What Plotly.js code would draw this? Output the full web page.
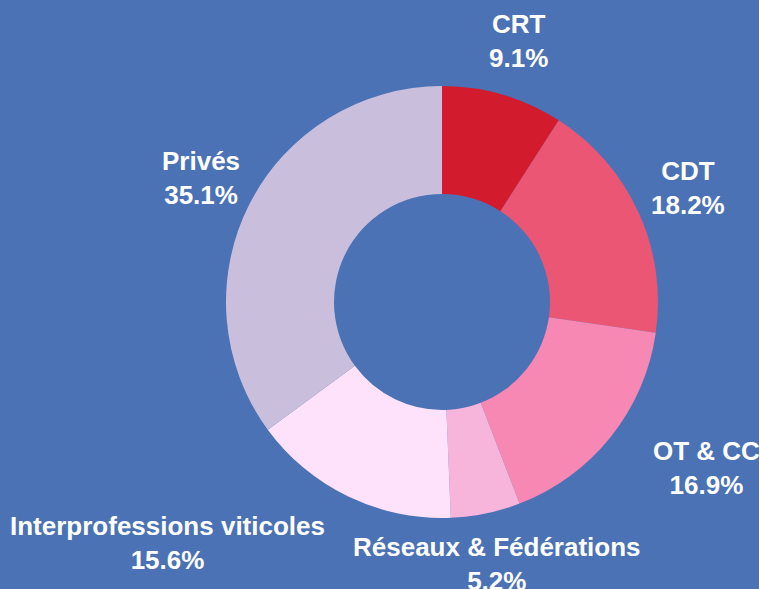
<!DOCTYPE html>
<html>
<head>
<meta charset="utf-8">
<script src="https://cdn.plot.ly/plotly-3.0.1.min.js"></script>
<style>html,body{margin:0;padding:0;background:#4b72b5;}#chart{width:759px;height:589px;}</style>
</head>
<body>
<div id="chart"></div>
<script>
var categories = ["CRT", "CDT", "OT & CC", "Réseaux & Fédérations", "Interprofessions viticoles", "Privés"];
var values = [9.1, 18.2, 16.9, 5.2, 15.6, 35.1];
var colors = ["#d21c2e", "#ea5674", "#f688b3", "#f8b5dc", "#fee2fb", "#c9bfdd"];

var labelFont = {family: "Liberation Sans, Arial, sans-serif", size: 26, color: "#ffffff", weight: "bold"};

var trace = {
  type: "pie",
  labels: categories,
  values: values,
  hole: 0.5,
  sort: false,
  direction: "clockwise",
  rotation: 0,
  marker: {colors: colors, line: {width: 0}},
  textinfo: "none",
  hoverinfo: "label+percent",
  showlegend: false
};

// Labels placed outside each slice, at the slice's mid-angle (derived from the data)
var total = values.reduce(function (a, b) { return a + b; }, 0);
var labelRadius = 1.25; // relative to pie radius
var annotations = [];
var cum = 0;
for (var i = 0; i < values.length; i++) {
  var mid = (cum + values[i] / 2) / total * 2 * Math.PI;
  cum += values[i];
  var s = Math.sin(mid), c = Math.cos(mid);
  var xanchor = "center";
  if (c < -0.5 && Math.abs(s) > 0.3) xanchor = s > 0 ? "left" : "right";
  annotations.push({
    xref: "paper", yref: "paper",
    x: 0.5 + 0.5 * labelRadius * s,
    y: 0.5 + 0.5 * labelRadius * c,
    xanchor: xanchor, yanchor: "middle", align: "center",
    yshift: 2,
    borderpad: 0, borderwidth: 0,
    showarrow: false,
    text: categories[i] + "<br>" + values[i].toFixed(1) + "%",
    font: labelFont
  });
}

var layout = {
  width: 759,
  height: 589,
  paper_bgcolor: "#4b72b5",
  plot_bgcolor: "#4b72b5",
  margin: {l: 226, r: 101, t: 86, b: 71},
  showlegend: false,
  annotations: annotations
};

Plotly.newPlot("chart", [trace], layout, {displayModeBar: false, staticPlot: true});
</script>
</body>
</html>
